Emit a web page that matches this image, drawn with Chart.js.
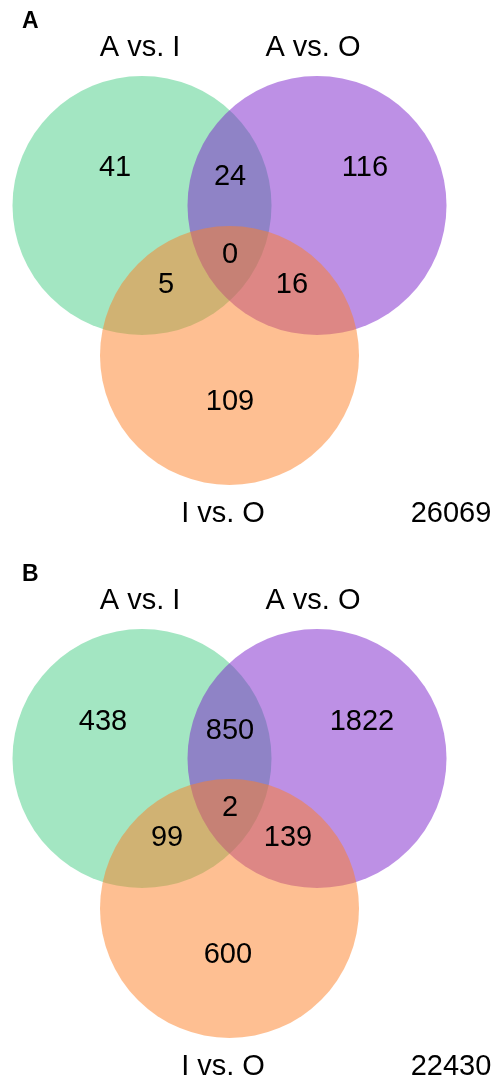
<!DOCTYPE html>
<html>
<head>
<meta charset="utf-8">
<script src="https://cdn.jsdelivr.net/npm/chart.js@4.4.1/dist/chart.umd.min.js"></script>
<style>
  html, body { margin: 0; padding: 0; background: #fff; overflow: hidden; }
  .panel { position: relative; width: 500px; }
  canvas { display: block; }
</style>
</head>
<body>
<div class="panel" style="height:542px"><canvas id="venn-a" width="500" height="542"></canvas></div>
<div class="panel" style="height:542px;margin-top:11px"><canvas id="venn-b" width="500" height="531"></canvas></div>
<script>
// Comparisons shown as the three sets
const setNames = ['A vs. I', 'A vs. O', 'I vs. O'];

// Region order: only A-I, only A-O, A-I & A-O, all three, A-I & I-O, A-O & I-O, only I-O
const regionKeys = ['AI', 'AO', 'AI_AO', 'ALL', 'AI_IO', 'AO_IO', 'IO'];
const countsA = [41, 116, 24, 0, 5, 16, 109];
const countsB = [438, 1822, 850, 2, 99, 139, 600];
const totalA = 26069;
const totalB = 22430;
const panelLetters = ['A', 'B'];

// Venn layout in unit space: distance between neighbouring centres = 1
const circleCenters = [[-0.5, 0], [0.5, 0], [0, -0.857]];
const circleRadius = 0.74;
const circleColors = ['rgba(71,205,133,0.5)', 'rgba(123,33,203,0.5)', 'rgba(253,127,37,0.5)'];

// Label anchors (unit space) for each region, per panel
const regionPosA = [[-0.654, 0.214], [0.774, 0.214], [0.003, 0.163], [0.003, -0.283], [-0.363, -0.454], [0.357, -0.454], [0.003, -1.123]];
const regionPosB = [[-0.723, 0.209], [0.757, 0.209], [0.003, 0.157], [0.003, -0.283], [-0.357, -0.454], [0.334, -0.454], [-0.009, -1.123]];
const setNamePos = [[-0.511, 0.9], [0.477, 0.9], [-0.037, -1.763]];
const totalPos = [1.266, -1.763];

// Pixel geometry of a panel: px per unit and where the unit origin sits
const UNIT_PX = 175;
const ORIGIN_X = 229.5;
const ORIGIN_Y = 205.5;

const FONT = '"Liberation Sans", Arial, Helvetica, sans-serif';

const vennText = {
  id: 'vennText',
  afterDatasetsDraw(chart, args, opts) {
    const { ctx } = chart;
    const sx = chart.scales.x, sy = chart.scales.y;
    ctx.save();
    ctx.fillStyle = '#000';
    ctx.textAlign = 'center';
    ctx.textBaseline = 'middle';
    ctx.font = '29px ' + FONT;
    opts.labels.forEach(l => {
      ctx.fillText(l.text, sx.getPixelForValue(l.pos[0]), sy.getPixelForValue(l.pos[1]));
    });
    ctx.font = 'bold 23px ' + FONT;
    ctx.textAlign = 'left';
    ctx.fillText(opts.letter, 22, 22);
    ctx.restore();
  }
};

function radiusPx(chart) {
  const s = chart.scales.x;
  return Math.abs(s.getPixelForValue(circleRadius) - s.getPixelForValue(0));
}

function drawVenn(canvasId, counts, total, letter, regionPos) {
  const canvas = document.getElementById(canvasId);
  const w = canvas.width, h = canvas.height;
  const labels = [];
  counts.forEach((c, i) => labels.push({ text: String(c), pos: regionPos[i] }));
  setNames.forEach((n, i) => labels.push({ text: n, pos: setNamePos[i] }));
  labels.push({ text: String(total), pos: totalPos });

  new Chart(canvas, {
    type: 'scatter',
    data: {
      datasets: [{
        data: circleCenters.map(([x, y]) => ({ x, y })),
        backgroundColor: circleColors,
        borderWidth: 0,
        pointRadius: ctx => radiusPx(ctx.chart),
        pointHoverRadius: ctx => radiusPx(ctx.chart),
        clip: false
      }]
    },
    options: {
      responsive: false,
      animation: false,
      events: [],
      layout: { padding: 0 },
      plugins: {
        legend: { display: false },
        tooltip: { enabled: false },
        vennText: { labels, letter }
      },
      scales: {
        x: { type: 'linear', display: false, min: -ORIGIN_X / UNIT_PX, max: (w - ORIGIN_X) / UNIT_PX },
        y: { type: 'linear', display: false, min: -(h - ORIGIN_Y) / UNIT_PX, max: ORIGIN_Y / UNIT_PX }
      }
    },
    plugins: [vennText]
  });
}

drawVenn('venn-a', countsA, totalA, panelLetters[0], regionPosA);
drawVenn('venn-b', countsB, totalB, panelLetters[1], regionPosB);
</script>
</body>
</html>
